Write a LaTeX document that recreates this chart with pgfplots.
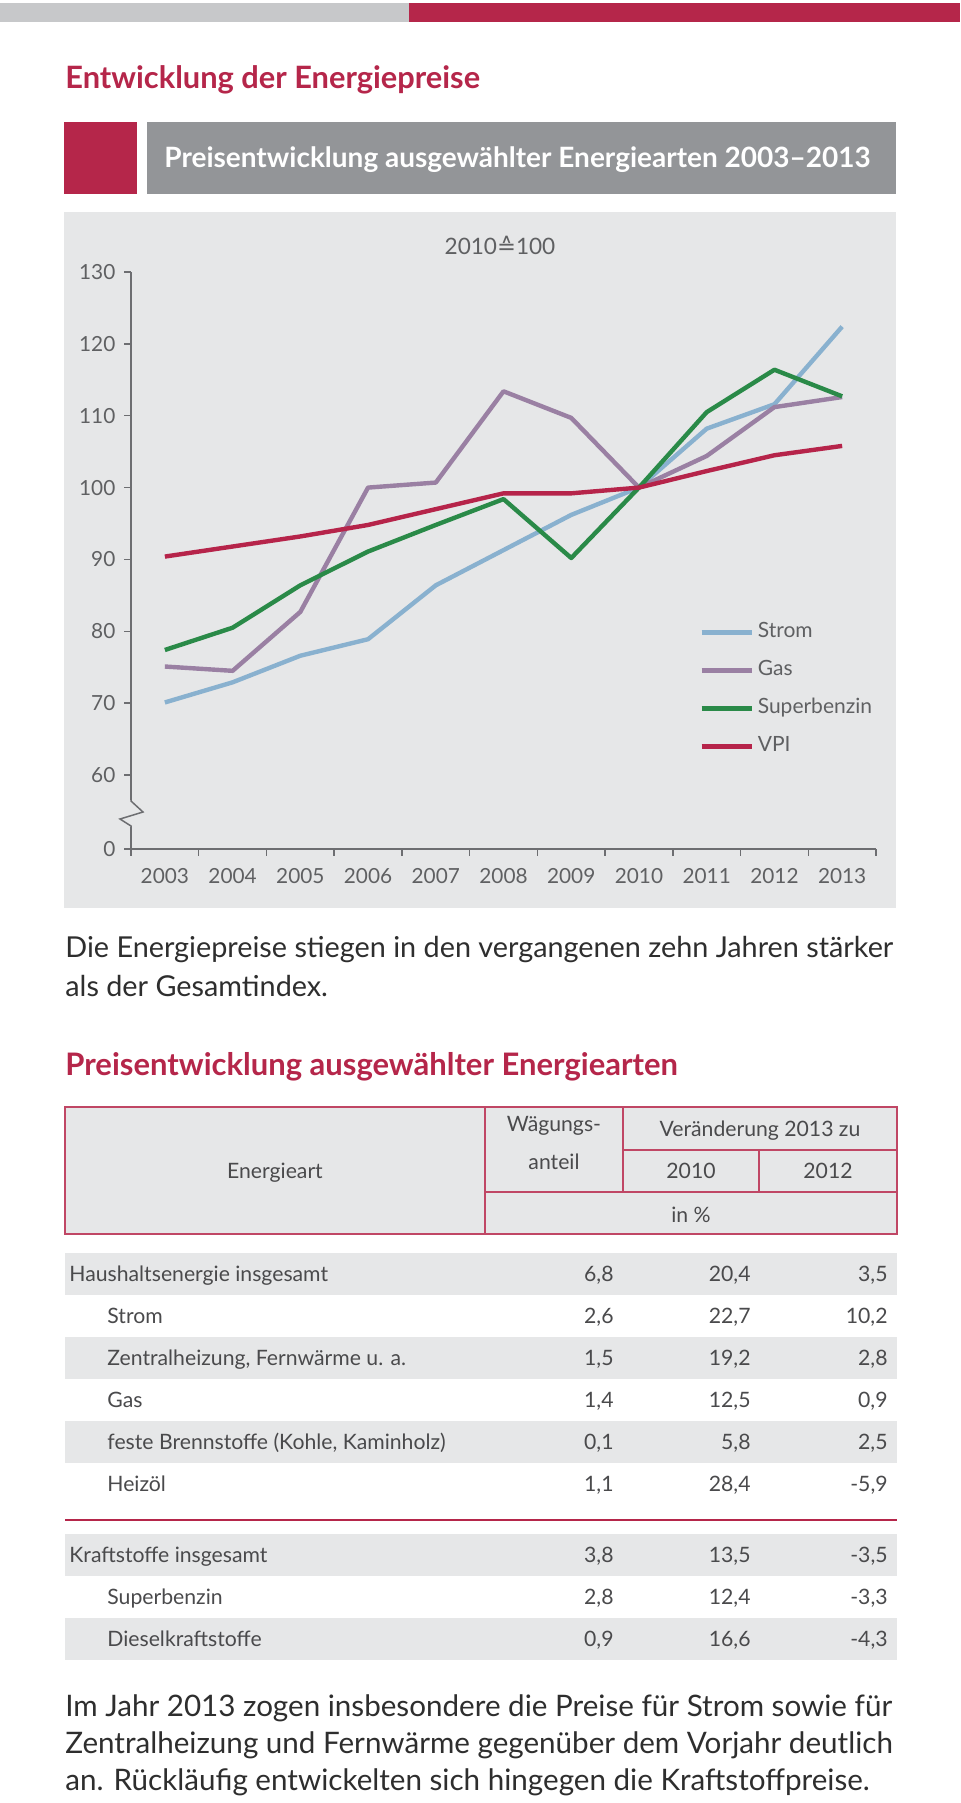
\documentclass[border=0pt]{standalone}
\usepackage{pgfplots}
\usepackage{pgfplotstable}
\pgfplotsset{compat=1.18}
\usepackage{fontspec}
\setmainfont{Lato}
\newfontfamily\symfont{DejaVu Sans}

\definecolor{topgrey}{HTML}{C7C8CA}
\definecolor{crimson}{HTML}{B5264A}
\definecolor{boxgrey}{HTML}{939598}
\definecolor{panel}{HTML}{E6E7E8}
\definecolor{axisgrey}{HTML}{6D6E71}
\definecolor{labelgrey}{HTML}{5F6062}
\definecolor{textgrey}{HTML}{2E2E2E}
\definecolor{tablegrey}{HTML}{4A4A4C}
\definecolor{strom}{HTML}{89B1CF}
\definecolor{gas}{HTML}{9A80A3}
\definecolor{benzin}{HTML}{2A8A48}
\definecolor{vpi}{HTML}{B6244A}

% Preisindizes, 2010 = 100 (x: 0 = 2003 ... 10 = 2013)
\pgfplotstableread{
x  strom  gas    benzin  vpi
0  70.1   75.1   77.4    90.4
1  72.9   74.5   80.5    91.8
2  76.6   82.7   86.4    93.2
3  78.9   100.0  91.1    94.8
4  86.4   100.7  94.8    97.0
5  91.3   113.4  98.4    99.2
6  96.2   109.7  90.2    99.2
7  100.0  100.0  100.0   100.0
8  108.2  104.4  110.5   102.3
9  111.6  111.2  116.4   104.5
10 122.4  112.6  112.7   105.8
}\prices

\begin{document}
\begin{tikzpicture}
\begin{scope}[x=0.5bp,y=-0.5bp]
  \useasboundingbox (0,0) rectangle (960,1803);
  \fill[white] (0,0) rectangle (960,1803);
  \fill[topgrey] (0,3) rectangle (409,22);
  \fill[crimson] (409,3) rectangle (960,22);
  \node[anchor=base west, inner sep=0, text=crimson, font=\bfseries\fontsize{15.4bp}{18bp}\selectfont] at (65,88) {Entwicklung der Energiepreise};
  \fill[crimson] (64,122) rectangle (137,194);
  \fill[boxgrey] (147,122) rectangle (896,194);
  \node[anchor=base west, inner sep=0, text=white, font=\bfseries\fontsize{14bp}{17bp}\selectfont] at (164,167) {Preisentwicklung ausgewählter Energiearten 2003–2013};
  \fill[panel] (64,212) rectangle (896,908);
  \node[anchor=base, inner sep=0, text=labelgrey, font=\fontsize{11.3bp}{13bp}\selectfont] at (500,254) {2010{\symfont ≙}100};
\end{scope}

\begin{axis}[
  at={(65.5bp,-424.5bp)}, anchor=south west,
  scale only axis, width=372.5bp, height=288.5bp,
  xmin=-0.5, xmax=10.5, ymin=49.7, ymax=130,
  axis x line*=bottom, axis y line*=left,
  axis line style={axisgrey, line width=0.75bp},
  tick style={axisgrey, line width=0.75bp},
  tick align=outside, major tick length=3.3bp,
  xtick={-0.5,0.5,...,10.5},
  x tick label as interval,
  xticklabels={2003,2004,2005,2006,2007,2008,2009,2010,2011,2012,2013},
  ytick={49.7,60,70,80,90,100,110,120,130},
  yticklabels={0,60,70,80,90,100,110,120,130},
  tick label style={text=labelgrey, font=\fontsize{10.4bp}{12bp}\selectfont},
  xticklabel style={yshift=-3bp},
  yticklabel style={xshift=-1bp},
  legend cell align=left,
  legend image code/.code={\draw[#1] (0bp,0bp) -- (25bp,0bp);},
  legend style={at={(0.7624,0.393)}, anchor=north west, draw=none, fill=none,
    inner sep=0pt, row sep=9bp, column sep=2bp, text=labelgrey,
    font=\fontsize{10.5bp}{12bp}\selectfont,
    nodes={inner sep=0pt, text height=7.5bp, text depth=2.5bp}},
  every axis plot/.append style={line width=2.2bp, line join=round},
]
\addplot[strom] table[x=x, y=strom] {\prices};
\addlegendentry{Strom}
\addplot[gas] table[x=x, y=gas] {\prices};
\addlegendentry{Gas}
\addplot[benzin] table[x=x, y=benzin] {\prices};
\addlegendentry{Superbenzin}
\addplot[vpi] table[x=x, y=vpi] {\prices};
\addlegendentry{VPI}
\end{axis}

\begin{scope}[x=0.5bp,y=-0.5bp]
  % Achsenbruch
  \fill[panel] (127,800) rectangle (135,827);
  \draw[axisgrey, line width=0.75bp] (131,798) -- (131,801) -- (143,812) -- (120,819) -- (131,826) -- (131,829);

  % Text unter dem Diagramm
  \node[anchor=base west, inner sep=0, text=textgrey, font=\fontsize{14.4bp}{17bp}\selectfont] at (65,957.5) {Die Energiepreise stiegen in den vergangenen zehn Jahren stärker};
  \node[anchor=base west, inner sep=0, text=textgrey, font=\fontsize{14.4bp}{17bp}\selectfont] at (65,996.5) {als der Gesamtindex.};
  \node[anchor=base west, inner sep=0, text=crimson, font=\bfseries\fontsize{15.5bp}{18bp}\selectfont] at (65,1075) {Preisentwicklung ausgewählter Energiearten};

  % Tabellenkopf
  \begin{scope}[draw=crimson!85!white, line width=0.6bp]
    \filldraw[fill=panel] (65,1107) rectangle (897,1234);
    \draw (485,1107) -- (485,1234);
    \draw (623,1107) -- (623,1192);
    \draw (623,1150) -- (897,1150);
    \draw (485,1192) -- (897,1192);
    \draw (759,1150) -- (759,1192);
  \end{scope}
  \begin{scope}[every node/.style={anchor=base, inner sep=0, text=tablegrey, font=\fontsize{10.6bp}{12bp}\selectfont}]
    \node at (275,1178) {Energieart};
    \node at (554,1131) {Wägungs-};
    \node at (554,1169) {anteil};
    \node at (760,1136) {Veränderung 2013 zu};
    \node at (691,1178) {2010};
    \node at (828,1178) {2012};
    \node at (691,1222) {in \%};
  \end{scope}

  % Tabellenkörper
  \foreach \y in {1253,1337,1421,1534,1618}
    \fill[panel] (65,\y) rectangle (897,\y+42);
  \draw[crimson, line width=0.75bp] (65,1520) -- (897,1520);
  \begin{scope}[every node/.style={inner sep=0, text=tablegrey, font=\fontsize{10.6bp}{12bp}\selectfont}]
    \foreach \y/\ind/\name/\a/\b/\c in {
      1281/69/{Haushaltsenergie insgesamt}/{6,8}/{20,4}/{3,5},
      1323/107/{Strom}/{2,6}/{22,7}/{10,2},
      1365/107/{Zentralheizung, Fernwärme u. a.}/{1,5}/{19,2}/{2,8},
      1407/107/{Gas}/{1,4}/{12,5}/{0,9},
      1449/107/{feste Brennstoffe (Kohle, Kaminholz)}/{0,1}/{5,8}/{2,5},
      1491/107/{Heizöl}/{1,1}/{28,4}/{-5,9},
      1562/69/{Kraftstoffe insgesamt}/{3,8}/{13,5}/{-3,5},
      1604/107/{Superbenzin}/{2,8}/{12,4}/{-3,3},
      1646/107/{Dieselkraftstoffe}/{0,9}/{16,6}/{-4,3}}{
      \node[anchor=base west] at (\ind,\y) {\name};
      \node[anchor=base east] at (614,\y) {\a};
      \node[anchor=base east] at (751,\y) {\b};
      \node[anchor=base east] at (888,\y) {\c};
    }
  \end{scope}

  % Schlusstext
  \begin{scope}[every node/.style={anchor=base west, inner sep=0, text=textgrey, font=\fontsize{14.8bp}{18bp}\selectfont}]
    \node at (65,1716) {Im Jahr 2013 zogen insbesondere die Preise für Strom sowie für};
    \node at (65,1753) {Zentralheizung und Fernwärme gegenüber dem Vorjahr deutlich};
    \node at (65,1790) {an. Rückläufig entwickelten sich hingegen die Kraftstoffpreise.};
  \end{scope}
\end{scope}
\end{tikzpicture}
\end{document}
